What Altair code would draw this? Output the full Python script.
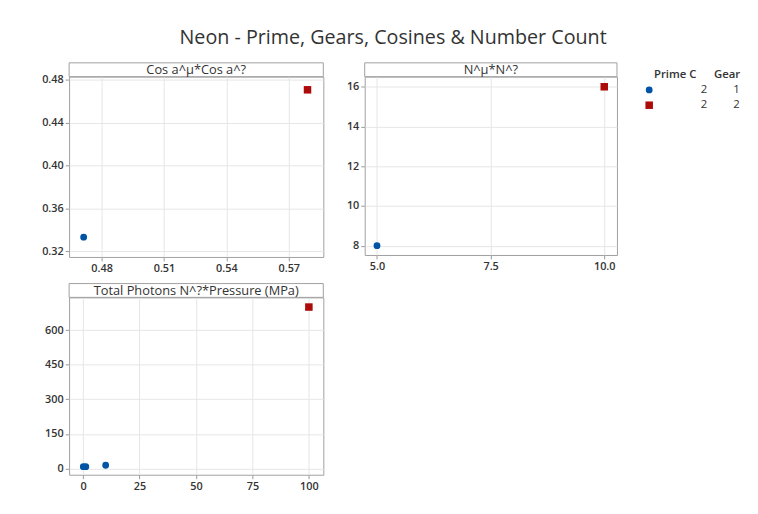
import altair as alt
import pandas as pd

# ---- data ----
cos_x = [0.4714, 0.579]
cos_y = [0.333, 0.4705]
cos_gear = ["1", "2"]

n_x = [5.0, 10.0]
n_y = [8, 16]
n_gear = ["1", "2"]

tp_x = [0.1, 1.2, 10, 100]
tp_y = [8, 8, 14, 700]
tp_gear = ["1", "1", "1", "2"]

legend_prime = [2, 2]
legend_gear = ["1", "2"]

TITLE = "Neon - Prime, Gears, Cosines & Number Count"
FONT = "Open Sans"
BLUE = "#0054a6"
RED = "#ad0a0a"
FRAME = "#a0a0a0"

shape_scale = alt.Scale(domain=["1", "2"], range=["circle", "square"])
color_scale = alt.Scale(domain=["1", "2"], range=[BLUE, RED])
size_scale = alt.Scale(domain=["1", "2"], range=[48, 58])


def panel(xs, ys, gears, title, w, h, xdom, xticks, xfmt, ydom, yticks, yfmt):
    df = pd.DataFrame({"x": xs, "y": ys, "Gear": gears})
    pts = alt.Chart(df).mark_point(filled=True, opacity=1, strokeWidth=0).encode(
        x=alt.X("x:Q", scale=alt.Scale(domain=xdom, nice=False, zero=False),
                axis=alt.Axis(values=xticks, format=xfmt, title=None)),
        y=alt.Y("y:Q", scale=alt.Scale(domain=ydom, nice=False, zero=False),
                axis=alt.Axis(values=yticks, format=yfmt, title=None)),
        shape=alt.Shape("Gear:N", scale=shape_scale, legend=None),
        color=alt.Color("Gear:N", scale=color_scale, legend=None),
        size=alt.Size("Gear:N", scale=size_scale, legend=None),
    )
    tdf = pd.DataFrame({"t": [title]})
    rect = alt.Chart(tdf).mark_rect(fill="white", stroke=FRAME, strokeWidth=1).encode(
        x=alt.value(0), x2=alt.value(w), y=alt.value(-14), y2=alt.value(0)
    )
    txt = alt.Chart(tdf).mark_text(font=FONT, fontSize=13, color="#333333", baseline="middle").encode(
        x=alt.value(w / 2), y=alt.value(-6.5), text="t:N"
    )
    return alt.layer(pts, rect, txt).properties(width=w, height=h)


p1 = panel(cos_x, cos_y, cos_gear, "Cos a^\u00b5*Cos a^?", 258, 183,
           [0.4644, 0.5866], [0.48, 0.51, 0.54, 0.57], ".2f",
           [0.3145, 0.4828], [0.32, 0.36, 0.40, 0.44, 0.48], ".2f")
p2 = panel(n_x, n_y, n_gear, "N^\u00b5*N^?", 256, 181,
           [4.73, 10.28], [5.0, 7.5, 10.0], ".1f",
           [7.53, 16.51], [8, 10, 12, 14, 16], "d")
p3 = panel(tp_x, tp_y, tp_gear, "Total Photons N^?*Pressure (MPa)", 258, 180,
           [-6.2, 106.4], [0, 25, 50, 75, 100], "d",
           [-27, 742], [0, 150, 300, 450, 600], "d")

# ---- custom legend ----
ldf = pd.DataFrame({"row": [0, 1], "prime": legend_prime, "Gear": legend_gear})
ly = alt.Y("row:Q", scale=alt.Scale(domain=[0, 1], range=[13.5, 29]), axis=None)
lbase = alt.Chart(ldf)
lsym = lbase.mark_point(filled=True, opacity=1, strokeWidth=0).encode(
    x=alt.value(12.7), y=ly,
    shape=alt.Shape("Gear:N", scale=shape_scale, legend=None),
    color=alt.Color("Gear:N", scale=color_scale, legend=None),
    size=alt.Size("Gear:N", scale=size_scale, legend=None),
)
lprime = lbase.mark_text(font=FONT, fontSize=11.5, color="#333333", align="right", baseline="middle").encode(
    x=alt.value(71.7), y=ly, text="prime:N")
lgear = lbase.mark_text(font=FONT, fontSize=11.5, color="#333333", align="right", baseline="middle").encode(
    x=alt.value(104.5), y=ly, text="Gear:N")
hdf = pd.DataFrame({"h": ["Prime C", "Gear"], "hx": [60.7, 105]})
lhead = alt.Chart(hdf).mark_text(font=FONT, fontSize=11.5, fontWeight=600, color="#333333",
                                 align="right", baseline="middle").encode(
    x=alt.X("hx:Q", scale=alt.Scale(domain=[0, 110], range=[0, 110]), axis=None),
    y=alt.value(-2), text="h:N")
legend = alt.layer(lsym, lprime, lgear, lhead).resolve_scale(x="independent").properties(
    width=110, height=50, view=alt.ViewConfig(stroke=None)
)

top = alt.hconcat(alt.hconcat(p1, p2, spacing=21), legend, spacing=19)
chart = alt.vconcat(top, p3, spacing=8).properties(
    title=alt.TitleParams(TITLE, anchor="middle", fontSize=20, font=FONT, fontWeight="normal",
                          color="#333333", offset=14),
    padding={"left": 33, "top": 17, "right": 5, "bottom": 5},
).configure_view(stroke=FRAME, strokeWidth=1).configure_axis(
    labelFont=FONT, labelFontSize=11, labelFontWeight=600, labelColor="#333333",
    tickColor="#999999", tickSize=4, domain=False, gridColor="#e6e6e6", labelPadding=2,
).configure_concat(spacing=4)

chart.save("out.html", embed_options={"renderer": "svg", "actions": False})
